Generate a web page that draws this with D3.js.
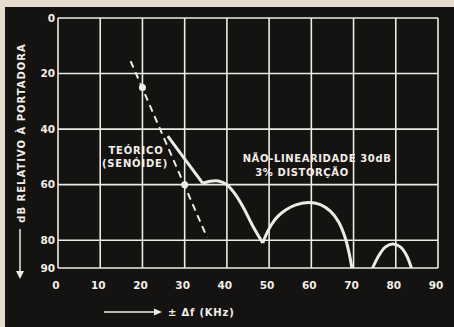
<!DOCTYPE html>
<html>
<head>
<meta charset="utf-8">
<script src="https://cdn.jsdelivr.net/npm/d3@7"></script>
<style>
  body { margin: 0; background: #e6dccd; }
  svg { display: block; }
  text { font-family: "DejaVu Sans", sans-serif; font-weight: bold; fill: #f2eee8; }
</style>
</head>
<body>
<svg width="454" height="327"></svg>
<script>
// axis ticks
var xTicks = [0, 10, 20, 30, 40, 50, 60, 70, 80, 90];
var yTicks = [0, 20, 40, 60, 80, 90];

// theoretical (sinusoid) dashed line and its two marked points
var theoryLine = [[17.2, 15.5], [35.3, 79]];
var theoryDots = [[20, 25], [30, 60]];

// non-linear curve, one array per lobe
var mainSlope = [[26, 42.5], [34.3, 59.5]];
var lobe1 = [[34.3, 59.5], [36, 58.8], [38, 58.7], [40, 60], [42, 63.5], [44, 68.5], [46, 74.5], [48.5, 81]];
var lobe2 = [[48.5, 81], [49.3, 78], [50.5, 74.5], [52, 71.5], [54, 69], [56.5, 67.2], [59.5, 66.4], [62, 67.1], [64.5, 69.5], [66.5, 73.5], [68, 79], [69, 85], [69.6, 90]];
var lobe3 = [[74.5, 90], [76, 85.5], [77.5, 82.5], [79.2, 81.4], [81, 82.3], [82.5, 85.3], [83.7, 90]];

var svg = d3.select("svg");

// black board with paper strip at top and left
svg.append("rect").attr("x", 5).attr("y", 7).attr("width", 449).attr("height", 320).attr("fill", "#151311");

var x = d3.scaleLinear().domain([0, 90]).range([58, 438]);
var y = d3.scaleLinear().domain([0, 90]).range([18, 268]);

var ink = "#ecebe6";

svg.append("defs").append("clipPath").attr("id", "plot")
  .append("rect").attr("x", x(0)).attr("y", y(0)).attr("width", x(90) - x(0)).attr("height", y(90) - y(0));

// grid
svg.append("g").selectAll("line").data(xTicks).enter().append("line")
    .attr("x1", function(d) { return x(d); }).attr("x2", function(d) { return x(d); })
    .attr("y1", y(0)).attr("y2", y(90))
    .attr("stroke", ink).attr("stroke-width", 1.6);
svg.append("g").selectAll("line").data(yTicks).enter().append("line")
    .attr("x1", x(0)).attr("x2", x(90))
    .attr("y1", function(d) { return y(d); }).attr("y2", function(d) { return y(d); })
    .attr("stroke", ink).attr("stroke-width", 1.6);

// tick labels
svg.append("g").selectAll("text").data(yTicks).enter().append("text")
    .attr("x", 55).attr("y", function(d) { return y(d); })
    .attr("dy", "0.35em").attr("text-anchor", "end").attr("font-size", 10.5)
    .text(function(d) { return d; });
svg.append("g").selectAll("text").data(xTicks).enter().append("text")
    .attr("x", function(d) { return x(d) - 2; }).attr("y", 285)
    .attr("dy", "0.35em").attr("text-anchor", "middle").attr("font-size", 10.5)
    .text(function(d) { return d; });

var line = d3.line().x(function(d) { return x(d[0]); }).y(function(d) { return y(d[1]); });
var smooth = d3.line().curve(d3.curveCatmullRom).x(function(d) { return x(d[0]); }).y(function(d) { return y(d[1]); });

var curves = svg.append("g").attr("clip-path", "url(#plot)");

curves.append("path").datum(theoryLine).attr("d", line)
    .attr("fill", "none").attr("stroke", ink).attr("stroke-width", 2)
    .attr("stroke-dasharray", "7,5");

curves.append("path").datum(mainSlope).attr("d", line)
    .attr("fill", "none").attr("stroke", ink).attr("stroke-width", 3);
[lobe1, lobe2, lobe3].forEach(function(l) {
  curves.append("path").datum(l).attr("d", smooth)
      .attr("fill", "none").attr("stroke", ink).attr("stroke-width", 3);
});

svg.append("g").selectAll("circle").data(theoryDots).enter().append("circle")
    .attr("cx", function(d) { return x(d[0]); }).attr("cy", function(d) { return y(d[1]); })
    .attr("r", 3.5).attr("fill", ink);

// annotations
svg.append("text").attr("x", 136).attr("y", 150).attr("dy", "0.35em")
    .attr("text-anchor", "middle").attr("font-size", 10).attr("letter-spacing", 0.8).text("TEÓRICO");
svg.append("text").attr("x", 135).attr("y", 163).attr("dy", "0.35em")
    .attr("text-anchor", "middle").attr("font-size", 10).attr("letter-spacing", 0.8).text("(SENÓIDE)");
svg.append("text").attr("x", 317).attr("y", 158).attr("dy", "0.35em")
    .attr("text-anchor", "middle").attr("font-size", 10).attr("letter-spacing", 0.6).text("NÃO-LINEARIDADE 30dB");
svg.append("text").attr("x", 302).attr("y", 172).attr("dy", "0.35em")
    .attr("text-anchor", "middle").attr("font-size", 10).attr("letter-spacing", 0.6).text("3% DISTORÇÃO");

// axis titles with arrows
svg.append("text").attr("transform", "translate(21,133) rotate(-90)").attr("dy", "0.35em")
    .attr("text-anchor", "middle").attr("font-size", 10).attr("letter-spacing", 1).text("dB RELATIVO À PORTADORA");
svg.append("line").attr("x1", 20).attr("x2", 20).attr("y1", 229).attr("y2", 272)
    .attr("stroke", ink).attr("stroke-width", 1.5);
svg.append("path").attr("d", "M16,271 L24,271 L20,279 Z").attr("fill", ink);

svg.append("line").attr("x1", 104).attr("x2", 155).attr("y1", 312).attr("y2", 312)
    .attr("stroke", ink).attr("stroke-width", 1.5);
svg.append("path").attr("d", "M154,308.5 L162,312 L154,315.5 Z").attr("fill", ink);
svg.append("text").attr("x", 168).attr("y", 312).attr("dy", "0.35em")
    .attr("font-size", 10).attr("letter-spacing", 0.8).text("± Δf (KHz)");
</script>
</body>
</html>
